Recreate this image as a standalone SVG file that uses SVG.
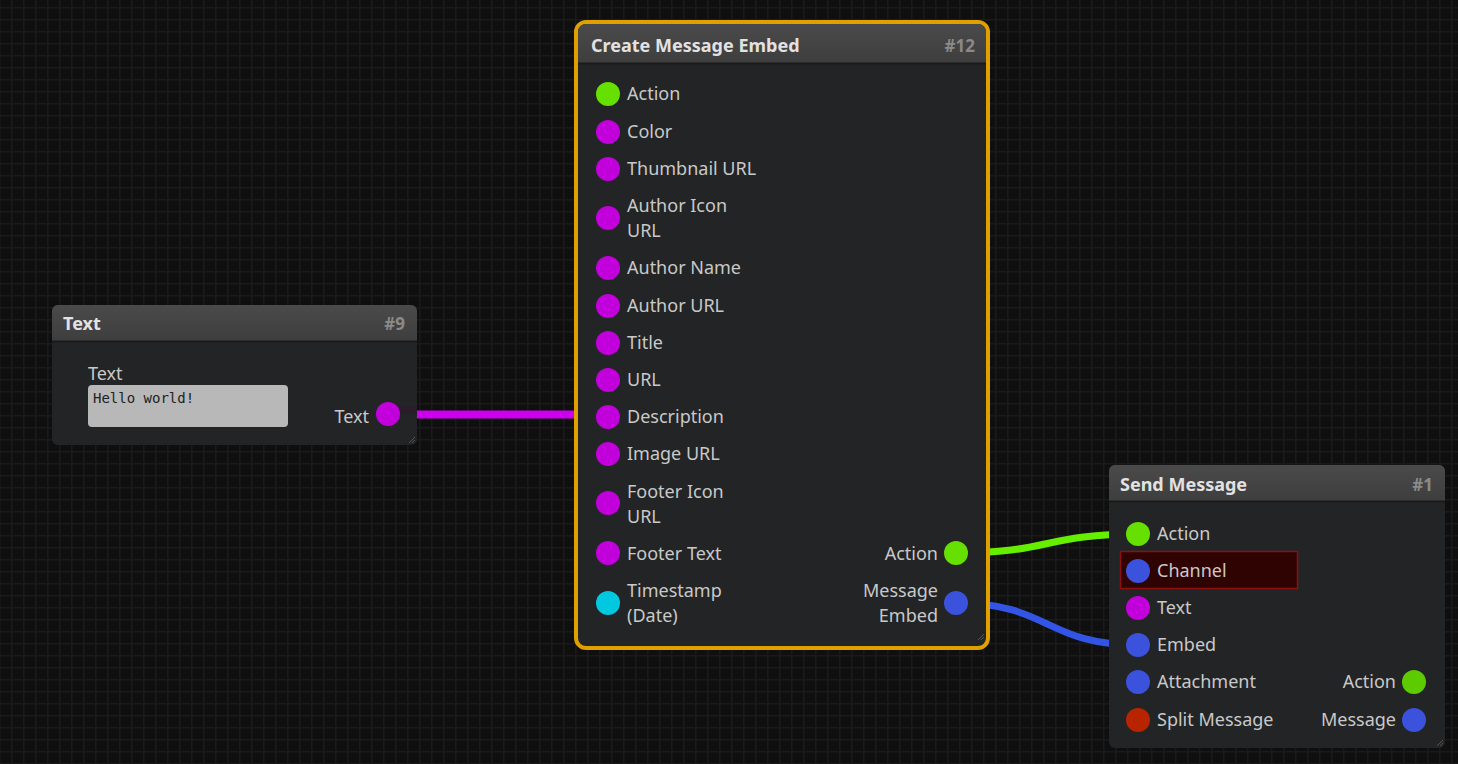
<svg xmlns="http://www.w3.org/2000/svg" width="1458" height="764" viewBox="0 0 1458 764">
<defs>
<pattern id="grid" width="12" height="12" patternUnits="userSpaceOnUse" x="11" y="7">
<rect width="12" height="12" fill="#0f0f0f"/>
<path d="M0 0.5H12M0.5 0V12" stroke="#1a1a1a" stroke-width="2" fill="none"/>
</pattern>
<linearGradient id="hdr" x1="0" y1="0" x2="0" y2="1">
<stop offset="0" stop-color="#4a4a4a"/>
<stop offset="1" stop-color="#3e3e3e"/>
</linearGradient>
</defs>
<style>
.body{fill:#232425;}
.hdr{fill:url(#hdr);}
.title{font-family:"Noto Sans","Open Sans",sans-serif;font-weight:bold;font-size:18px;fill:#e2e2e2;}
.num{font-family:"Noto Sans","Open Sans",sans-serif;font-weight:bold;font-size:17px;fill:#8a8a8a;text-anchor:end;}
.lbl{font-family:"Noto Sans","Open Sans",sans-serif;font-size:18px;fill:#c9c9c9;}
.r{text-anchor:end;}
.g{fill:#66e000;}
.m{fill:#c200dc;}
.c{fill:#00c8e0;}
.b{fill:#3b52dd;}
.red{fill:#b82400;}
.link{fill:none;}
.sep{stroke:#1a1a1a;stroke-width:2;}
.grip{stroke:#555;stroke-width:1;}
</style>
<rect width="1458" height="764" fill="url(#grid)"/>

<g id="connectors">
<path class="link" d="M388 414.5 L608 414.5" stroke="#cc00ee" stroke-width="8"/>
<path class="link" d="M956 553 C1050 553 1045 534 1138 534" stroke="#66ee00" stroke-width="7"/>
<path class="link" d="M956 603 C1050 603 1045 645 1138 645" stroke="#3355e6" stroke-width="7"/>
</g>

<g id="node-text">
<rect x="52" y="305" width="365" height="140" rx="6" class="body"/>
<path d="M52 341 V311 a6 6 0 0 1 6 -6 H411 a6 6 0 0 1 6 6 V341 Z" class="hdr"/>
<line x1="52" y1="341.5" x2="417" y2="341.5" class="sep"/>
<text x="63" y="330" class="title">Text</text>
<text x="405" y="330" class="num">#9</text>
<text x="88" y="380" class="lbl">Text</text>
<rect x="88" y="385" width="200" height="42" rx="4" fill="#b8b8b8"/>
<text x="93" y="403" font-family="'DejaVu Sans Mono','Liberation Mono',monospace" font-size="14" fill="#222">Hello world!</text>
<path d="M388 410 H417" stroke="#2e1a30" stroke-width="8" opacity="0.6"/>
<text x="369" y="423" class="lbl r">Text</text>
<circle cx="388" cy="414" r="12" class="m"/>
<path d="M409 443 L415 437 M412 443 L415 440" class="grip"/>
</g>

<g id="node-create-message-embed">
<rect x="576" y="22" width="412" height="626" rx="10" class="body" stroke="#e0a000" stroke-width="4"/>
<path d="M578 63 V32 a8 8 0 0 1 8 -8 H978 a8 8 0 0 1 8 8 V63 Z" class="hdr"/>
<line x1="578" y1="63.5" x2="986" y2="63.5" class="sep"/>
<text x="591" y="52" class="title">Create Message Embed</text>
<text x="975" y="52" class="num">#12</text>

<circle cx="608" cy="94" r="12" class="g"/><text x="627" y="100" class="lbl">Action</text>
<circle cx="608" cy="132" r="12" class="m"/><text x="627" y="138" class="lbl">Color</text>
<circle cx="608" cy="169" r="12" class="m"/><text x="627" y="175" class="lbl">Thumbnail URL</text>
<circle cx="608" cy="218" r="12" class="m"/><text x="627" y="212" class="lbl">Author Icon</text><text x="627" y="237" class="lbl">URL</text>
<circle cx="608" cy="268" r="12" class="m"/><text x="627" y="274" class="lbl">Author Name</text>
<circle cx="608" cy="306" r="12" class="m"/><text x="627" y="312" class="lbl">Author URL</text>
<circle cx="608" cy="343" r="12" class="m"/><text x="627" y="349" class="lbl">Title</text>
<circle cx="608" cy="380" r="12" class="m"/><text x="627" y="386" class="lbl">URL</text>
<circle cx="608" cy="417" r="12" class="m"/><text x="627" y="423" class="lbl">Description</text>
<circle cx="608" cy="454" r="12" class="m"/><text x="627" y="460" class="lbl">Image URL</text>
<circle cx="608" cy="503" r="12" class="m"/><text x="627" y="498" class="lbl">Footer Icon</text><text x="627" y="523" class="lbl">URL</text>
<circle cx="608" cy="553" r="12" class="m"/><text x="627" y="560" class="lbl">Footer Text</text>
<circle cx="608" cy="603" r="12" class="c"/><text x="627" y="597" class="lbl">Timestamp</text><text x="627" y="622" class="lbl">(Date)</text>

<text x="938" y="560" class="lbl r">Action</text><circle cx="956" cy="553" r="12" class="g"/>
<text x="938" y="597" class="lbl r">Message</text><text x="938" y="622" class="lbl r">Embed</text><circle cx="956" cy="603" r="12" class="b"/>
<path d="M978 640 L984 634 M981 640 L984 637" class="grip"/>
</g>

<g id="node-send-message">
<rect x="1109" y="465" width="336" height="283" rx="6" class="body"/>
<path d="M1109 501 V471 a6 6 0 0 1 6 -6 H1439 a6 6 0 0 1 6 6 V501 Z" class="hdr"/>
<line x1="1109" y1="501.5" x2="1445" y2="501.5" class="sep"/>
<text x="1120" y="491" class="title">Send Message</text>
<text x="1433" y="491" class="num">#1</text>

<rect x="1120.5" y="551.5" width="177" height="37" fill="#300303" stroke="#8c1010" stroke-width="1.5"/>
<circle cx="1138" cy="534" r="12" class="g"/><text x="1157" y="540" class="lbl">Action</text>
<circle cx="1138" cy="571" r="12" class="b"/><text x="1157" y="577" class="lbl">Channel</text>
<circle cx="1138" cy="608" r="12" class="m"/><text x="1157" y="614" class="lbl">Text</text>
<circle cx="1138" cy="645" r="12" class="b"/><text x="1157" y="651" class="lbl">Embed</text>
<circle cx="1138" cy="682" r="12" class="b"/><text x="1157" y="688" class="lbl">Attachment</text>
<circle cx="1138" cy="720" r="12" class="red"/><text x="1157" y="726" class="lbl">Split Message</text>

<text x="1396" y="688" class="lbl r">Action</text><circle cx="1414" cy="682" r="12" fill="#5ccc00"/>
<text x="1396" y="726" class="lbl r">Message</text><circle cx="1414" cy="720" r="12" class="b"/>
<path d="M1437 746 L1443 740 M1440 746 L1443 743" class="grip"/>
</g>
</svg>
